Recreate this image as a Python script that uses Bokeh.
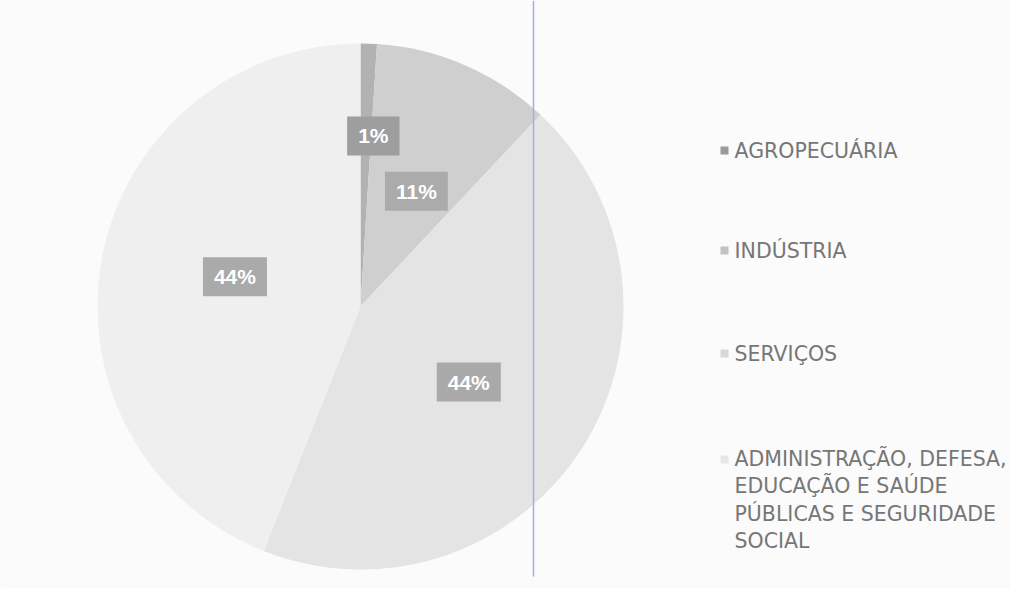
import numpy as np
from bokeh.plotting import figure
from bokeh.models import Range1d, ColumnDataSource
from bokeh.core.properties import value
from bokeh.embed import file_html
from bokeh.resources import INLINE

categories = ["AGROPECUÁRIA", "INDÚSTRIA", "SERVIÇOS",
              "ADMINISTRAÇÃO, DEFESA,\nEDUCAÇÃO E SAÚDE\nPÚBLICAS E SEGURIDADE\nSOCIAL"]
shares = [1, 11, 44, 44]
labels = ["1%", "11%", "44%", "44%"]

slice_colors = ["#b2b2b2", "#cfcfcf", "#e4e4e4", "#efefef"]
marker_colors = ["#9a9a9a", "#c2c2c2", "#d8d8d8", "#e6e6e6"]
box_colors = ["#9e9e9e", "#ababab", "#a9a9a9", "#aaaaaa"]

W, H = 1010, 588
p = figure(width=W, height=H, output_backend="svg", toolbar_location=None,
           x_range=Range1d(0, W), y_range=Range1d(-H, 0),
           min_border=0, background_fill_color="#fbfbfb",
           border_fill_color="#fbfbfb")
p.axis.visible = False
p.grid.visible = False
p.outline_line_color = None

cx, cy, r = 360, -306, 263
vals = np.array(shares, dtype=float)
frac = vals / vals.sum()
ends = np.cumsum(frac) * 2 * np.pi
starts = ends - frac * 2 * np.pi
start_ang = np.pi / 2 - starts
end_ang = np.pi / 2 - ends
src = ColumnDataSource(dict(start=start_ang, end=end_ang, color=slice_colors))
p.wedge(x=cx, y=cy, radius=r, start_angle="start", end_angle="end",
        direction="clock", fill_color="color", line_color=None, source=src)

# data labels
mid = (start_ang + end_ang) / 2 - np.deg2rad(2.5)
lab_r = np.array([171, 128, 132, 129])
lx = cx + lab_r * np.cos(mid)
ly = cy + lab_r * np.sin(mid)
lsrc = ColumnDataSource(dict(x=lx, y=ly, t=labels, bg=box_colors))
p.text(x="x", y="y", text="t", source=lsrc, text_align="center",
       text_baseline="middle", text_color="#ffffff",
       text_font=value("Liberation Sans"), text_font_style="bold",
       text_font_size="21px", background_fill_color="bg",
       padding=dict(left=11, right=11, top=8, bottom=8))

# legend
font_px = 20.5
line_h = 1.13
line_spacing_px = 27
leg_y = np.array([-150, -250, -353, -459])
nlines = np.array([c.count("\n") + 1 for c in categories])
text_y = leg_y - (nlines - 1) * line_spacing_px / 2
p.scatter(x=[724] * 4, y=leg_y, marker="square", size=8,
          fill_color=marker_colors, line_color=None)
p.text(x=[734] * 4, y=text_y, text=categories, text_align="left",
       text_baseline="middle", text_color="#767676",
       text_font=value("DejaVu Sans"), text_font_size=f"{font_px}px",
       text_line_height=line_h)

# scan artifact: blue vertical line
p.segment(x0=[533], y0=[0], x1=[533], y1=[-576], line_color="#9fb0e0",
          line_width=1.5)

open("out.html", "w").write(file_html(p, INLINE))
